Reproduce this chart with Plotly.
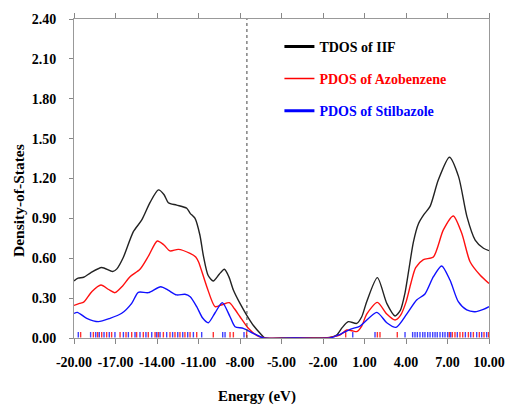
import plotly.graph_objects as go

# ---- data ----
tdos_E = [-20.0, -19.7, -19.3, -18.8, -18.0, -17.2, -16.9, -16.43, -15.71, -15.1, -14.5, -13.9, -13.5,
          -13.18, -12.58, -11.85, -11.6, -11.25, -10.9, -10.65, -10.3, -9.93, -9.5, -9.13, -8.8, -8.48,
          -8.0, -7.52, -7.0, -6.5, -6.2, -5.0, -3.0, -2.0, -1.5, -1.01, -0.6, -0.17, 0.44, 0.8, 1.16,
          1.93, 2.61, 3.21, 3.6, 3.93, 4.2, 4.53, 4.9, 5.3, 5.74, 6.34, 7.14, 7.8, 8.4, 9.0, 9.6, 10.0]
tdos_v = [0.43, 0.45, 0.457, 0.49, 0.53, 0.50, 0.52, 0.607, 0.80, 0.888, 1.02, 1.114, 1.08,
          1.018, 1.0, 0.976, 0.938, 0.90, 0.775, 0.62, 0.47, 0.429, 0.48, 0.517, 0.46, 0.361,
          0.26, 0.173, 0.09, 0.03, 0.0, 0.0, 0.0, 0.0, 0.005, 0.023, 0.08, 0.123, 0.11, 0.16, 0.273,
          0.454, 0.261, 0.166, 0.21, 0.34, 0.51, 0.72, 0.86, 0.93, 0.99, 1.19, 1.36, 1.214, 0.915, 0.737, 0.675, 0.657]

azo_E = [-20.0, -19.6, -19.3, -18.7, -18.05, -17.5, -17.04, -16.5, -15.95, -15.23, -14.6, -13.98, -13.5,
         -13.06, -12.46, -11.61, -11.2, -11.0, -10.4, -9.8, -9.3, -8.77, -8.4, -8.0, -7.4, -6.8, -6.2,
         -4.0, -1.8, -1.3, -0.76, -0.28, 0.1, 0.44, 0.8, 1.16, 1.93, 2.61, 3.21, 3.6, 4.0, 4.35, 4.7, 5.26,
         5.98, 6.7, 7.42, 8.03, 8.63, 9.35, 10.0]
azo_v = [0.245, 0.26, 0.27, 0.35, 0.399, 0.365, 0.341, 0.39, 0.461, 0.517, 0.62, 0.73, 0.70,
         0.655, 0.667, 0.637, 0.61, 0.574, 0.386, 0.236, 0.25, 0.266, 0.22, 0.16, 0.073, 0.02, 0.0,
         0.0, 0.0, 0.008, 0.023, 0.06, 0.055, 0.048, 0.09, 0.18, 0.268, 0.18, 0.135, 0.17, 0.27, 0.41, 0.53, 0.59,
         0.61, 0.813, 0.918, 0.788, 0.574, 0.474, 0.41]

stil_E = [-20.0, -19.76, -19.08, -18.24, -17.4, -16.55, -15.83, -15.35, -14.63, -13.73, -13.2, -12.58,
          -11.98, -11.6, -11.13, -10.7, -10.29, -9.8, -9.28, -8.72, -8.36, -7.76, -7.04, -6.3, -4.0,
          -1.5, -0.76, -0.04, 0.68, 1.89, 2.61, 3.28, 4.05, 4.77, 5.37, 5.98, 6.58, 7.18, 7.78, 8.39,
          8.99, 9.59, 10.0]
stil_v = [0.185, 0.193, 0.148, 0.123, 0.148, 0.186, 0.261, 0.344, 0.341, 0.386, 0.36, 0.324,
          0.329, 0.311, 0.236, 0.15, 0.115, 0.19, 0.266, 0.16, 0.085, 0.073, 0.035, 0.0, 0.0,
          0.0, 0.028, 0.065, 0.09, 0.193, 0.115, 0.08, 0.18, 0.286, 0.331, 0.461, 0.542, 0.436, 0.273, 0.211,
          0.198, 0.216, 0.236]

# eigenvalue sticks
red_sticks = [-19.52, -18.6, -18.29, -18.0, -17.64, -17.28, -16.67, -16.24, -15.83, -15.47, -14.99,
              -14.63, -14.14, -13.9, -13.54, -13.06, -12.7, -12.34, -11.98, -11.61, -11.13, -9.93,
              -8.72, -8.48, -7.52, -0.36, 1.93, 2.12, 3.37, 7.13, 7.35, 7.54, 7.9, 8.1, 8.51, 8.87,
              9.3, 9.64, 9.97]
blue_sticks = [-19.69, -18.8, -18.43, -18.17, -17.83, -17.45, -17.04, -16.43, -16.07, -15.59, -15.23,
               -14.8, -14.38, -14.02, -13.78, -13.3, -12.87, -12.5, -12.14, -11.78, -11.37, -10.77,
               -9.25, -9.08, -7.71, 0.15, 1.76, 3.93, 4.48, 4.65, 4.82, 5.01, 5.21, 5.37, 5.57, 5.74,
               5.93, 6.1, 6.26, 6.46, 6.65, 6.82, 7.01, 7.23, 7.71, 8.29, 8.68, 9.11, 9.47, 9.83]
stick_h = [0.004, 0.045]

fermi_E = -7.5
x_tickvals = [-20, -17, -14, -11, -8, -5, -2, 1, 4, 7, 10]
x_ticktext = ["-20.00", "-17.00", "-14.00", "-11.00", "-8.00", "-5.00", "-2.00", "1.00", "4.00", "7.00", "10.00"]
y_tickvals = [0.0, 0.3, 0.6, 0.9, 1.2, 1.5, 1.8, 2.1, 2.4]
y_ticktext = ["0.00", "0.30", "0.60", "0.90", "1.20", "1.50", "1.80", "2.10", "2.40"]
names = ["TDOS of IIF", "PDOS of Azobenzene", "PDOS of Stilbazole"]
colors = ["#000000", "#ff0000", "#0000ff"]

FONT = "Liberation Serif"

def sticks(vals):
    xs, ys = [], []
    for e in vals:
        xs += [e, e, None]
        ys += [stick_h[0], stick_h[1], None]
    return xs, ys

fig = go.Figure()

for vals, col in [(red_sticks, "rgba(255,0,0,0.8)"), (blue_sticks, "rgba(0,0,255,0.75)")]:
    xs, ys = sticks(vals)
    fig.add_trace(go.Scatter(x=xs, y=ys, mode="lines", line=dict(color=col, width=1.4),
                             showlegend=False, hoverinfo="skip"))

for E, v, col in [(tdos_E, tdos_v, "#222222"), (azo_E, azo_v, "#ff1010"), (stil_E, stil_v, "#1010ff")]:
    fig.add_trace(go.Scatter(x=E, y=v, mode="lines", line=dict(color=col, width=1.4, shape="spline", smoothing=0.7),
                             showlegend=False, hoverinfo="skip"))

fig.add_trace(go.Scatter(x=[fermi_E, fermi_E], y=[0, 2.4], mode="lines",
                         line=dict(color="#444444", width=1, dash="3px,3px"), showlegend=False))

for i, (nm, col, w) in enumerate(zip(names, colors, [3, 1.5, 3])):
    fig.add_trace(go.Scatter(x=[None], y=[None], mode="lines", line=dict(color=col, width=w),
                             name=f"<span style='color:{col}'>{nm}</span>", legendgroup=f"g{i}"))

fig.update_layout(
    width=508, height=407,
    margin=dict(l=74, r=19, t=19, b=69, autoexpand=False),
    paper_bgcolor="white", plot_bgcolor="white",
    font=dict(family=FONT, size=14, color="black"),
    legend=dict(x=0.495, y=0.963, xanchor="left", yanchor="top", bgcolor="rgba(0,0,0,0)",
                font=dict(family=FONT, size=14, weight="bold"), tracegroupgap=11,
                traceorder="grouped"),
    showlegend=True,
)
fig.update_xaxes(range=[-20, 10], tickvals=x_tickvals, ticktext=x_ticktext, ticks="outside", ticklen=5,
                 tickcolor="#888888", showline=True, linecolor="#999999", linewidth=1, mirror="allticks",
                 showgrid=False, zeroline=False, ticklabelstandoff=6, automargin=False,
                 tickfont=dict(family=FONT, size=14, weight="bold"))
fig.update_yaxes(range=[0, 2.4], tickvals=y_tickvals, ticktext=y_ticktext, ticks="outside", ticklen=4,
                 tickcolor="#888888", showline=True, linecolor="#999999", linewidth=1, mirror=True,
                 showgrid=False, zeroline=False, ticklabelstandoff=10, automargin=False,
                 tickfont=dict(family=FONT, size=14, weight="bold"))
# axis titles
fig.add_annotation(text="<b>Energy (eV)</b>", xref="paper", yref="paper", x=0.442, y=-58/319,
                   xanchor="center", yanchor="middle", showarrow=False,
                   font=dict(family=FONT, size=15))
fig.add_annotation(text="<b>Density-of-States</b>", xref="paper", yref="paper", x=-56/415, y=(338-201)/319,
                   xanchor="center", yanchor="middle", showarrow=False, textangle=-90,
                   font=dict(family=FONT, size=15.5))

fig.write_html("out.html")
